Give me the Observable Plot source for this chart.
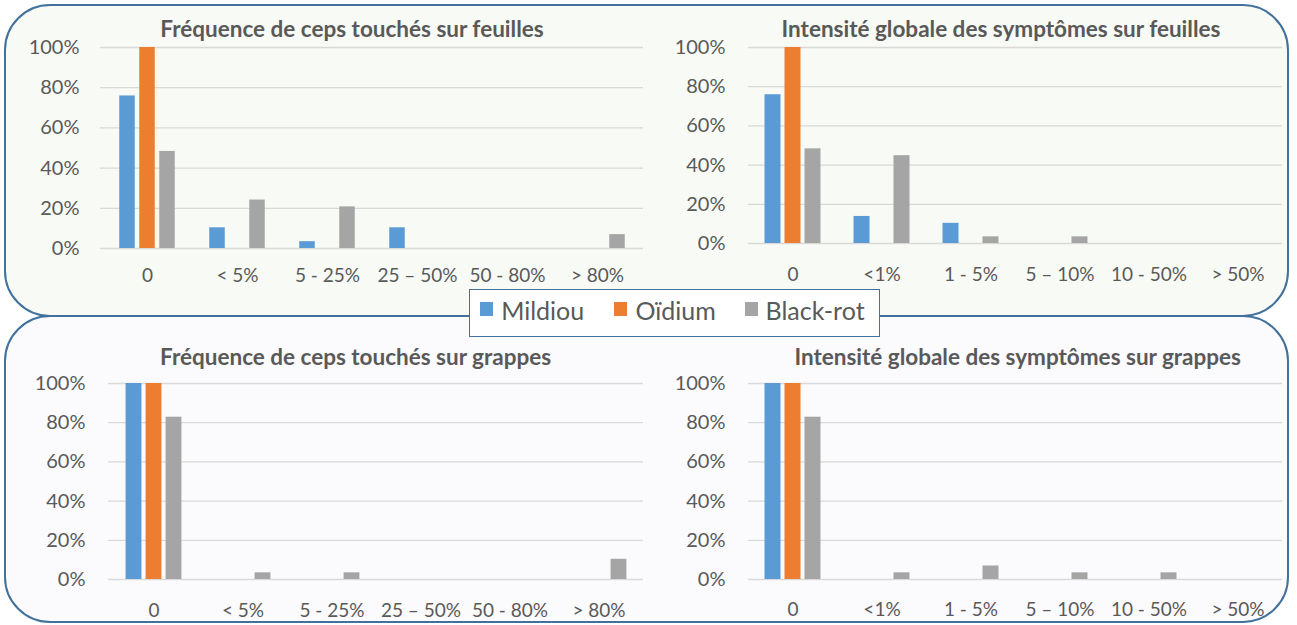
<!DOCTYPE html>
<html>
<head>
<meta charset="utf-8">
<script src="https://cdn.jsdelivr.net/npm/d3@7"></script>
<script src="https://cdn.jsdelivr.net/npm/@observablehq/plot@0.6"></script>
<style>
  html, body { margin: 0; padding: 0; background: #ffffff; }
  #root { position: relative; width: 1297px; height: 625px; overflow: hidden; font-family: Lato, "Open Sans", sans-serif; }
  .box { position: absolute; box-sizing: border-box; border: 2.5px solid #41719c; border-radius: 46px; }
  .panel { position: absolute; }
  .panel svg { background: transparent; overflow: visible; }
  .title { position: absolute; width: 700px; text-align: center; font-weight: 700; font-size: 22.5px; color: #595959; line-height: 24px; white-space: nowrap; }
  #legend { position: absolute; box-sizing: border-box; left: 468.5px; top: 289px; width: 411px; height: 47.5px; background: #ffffff; border: 1.5px solid #41719c; }
  .lg-sw { position: absolute; width: 13px; height: 14px; }
  .lg-tx { position: absolute; font-size: 25px; color: #595959; line-height: 28px; white-space: nowrap; }
</style>
</head>
<body>
<div id="root">
  <div class="box" style="left:3.75px; top:3.75px; width:1285.5px; height:313.5px; background:#f8faf5;"></div>
  <div class="box" style="left:3.75px; top:314.75px; width:1285.5px; height:308.5px; background:#fbfafd;"></div>
  <div class="panel" id="p1" style="left:0px; top:0px;"></div>
  <div class="panel" id="p2" style="left:650px; top:0px;"></div>
  <div class="panel" id="p3" style="left:0px; top:316px;"></div>
  <div class="panel" id="p4" style="left:650px; top:316px;"></div>
  <div class="title" id="t1"></div>
  <div class="title" id="t2"></div>
  <div class="title" id="t3"></div>
  <div class="title" id="t4"></div>
  <div id="legend"></div>
</div>
<script>
// ---- data ----
const seriesNames = ["Mildiou", "Oïdium", "Black-rot"];
const seriesColors = ["#5b9bd5", "#ed7d31", "#a5a5a5"];

const catsFrequence = ["0", "< 5%", "5 - 25%", "25 – 50%", "50 - 80%", "> 80%"];
const catsIntensite = ["0", "<1%", "1 - 5%", "5 – 10%", "10 - 50%", "> 50%"];
const yTickValues = [0, 20, 40, 60, 80, 100];

const titles = [
  "Fréquence de ceps touchés sur feuilles",
  "Intensité globale des symptômes sur feuilles",
  "Fréquence de ceps touchés sur grappes",
  "Intensité globale des symptômes sur grappes"
];

const freqFeuillesMildiou  = [75.9, 10.3, 3.4, 10.3, 0, 0];
const freqFeuillesOidium   = [100, 0, 0, 0, 0, 0];
const freqFeuillesBlackrot = [48.3, 24.1, 20.7, 0, 0, 6.9];

const intFeuillesMildiou   = [75.9, 13.8, 10.3, 0, 0, 0];
const intFeuillesOidium    = [100, 0, 0, 0, 0, 0];
const intFeuillesBlackrot  = [48.3, 44.8, 3.4, 3.4, 0, 0];

const freqGrappesMildiou   = [100, 0, 0, 0, 0, 0];
const freqGrappesOidium    = [100, 0, 0, 0, 0, 0];
const freqGrappesBlackrot  = [82.8, 3.4, 3.4, 0, 0, 10.3];

const intGrappesMildiou    = [100, 0, 0, 0, 0, 0];
const intGrappesOidium     = [100, 0, 0, 0, 0, 0];
const intGrappesBlackrot   = [82.8, 3.4, 6.9, 3.4, 3.4, 0];

// ---- drawing ----
const BAR_W = 16;
const BAR_STEP = 20;

function panel(cats, seriesValues, cfg) {
  const data = [];
  cats.forEach((c, i) => seriesValues.forEach((vals, k) => data.push({cat: c, serie: seriesNames[k], value: vals[i]})));
  const innerW = cfg.width - cfg.ml - cfg.mr;
  const bw = innerW / cats.length;
  const inset = (bw - BAR_W) / 2;
  return Plot.plot({
    width: cfg.width,
    height: cfg.height,
    marginLeft: cfg.ml,
    marginRight: cfg.mr,
    marginTop: cfg.mt,
    marginBottom: cfg.mb,
    style: {fontFamily: "Lato, 'Open Sans', sans-serif", fontSize: "19px", color: "#595959", background: "transparent", overflow: "visible"},
    x: {domain: cats, padding: 0},
    y: {domain: [0, 100], nice: false},
    color: {domain: seriesNames, range: seriesColors},
    marks: [
      Plot.ruleY(yTickValues, {stroke: "#d9d9d9", strokeWidth: 1.3}),
      ...seriesNames.map((s, k) => Plot.barY(data.filter(d => d.serie === s), {
        x: "cat", y: "value", fill: "serie",
        dx: (k - 1) * BAR_STEP, insetLeft: inset, insetRight: inset
      })),
      Plot.axisY(yTickValues, {tickSize: 0, tickPadding: cfg.yPad, tickFormat: d => d + "%", fontSize: 20, label: null}),
      Plot.axisX({tickSize: 0, tickPadding: cfg.xPad, fontSize: 19, label: null})
    ]
  });
}

document.getElementById("p1").append(panel(catsFrequence,
  [freqFeuillesMildiou, freqFeuillesOidium, freqFeuillesBlackrot],
  {width: 650, height: 300, ml: 100, mr: 7, mt: 47, mb: 52, yPad: 21, xPad: 20}));
document.getElementById("p2").append(panel(catsIntensite,
  [intFeuillesMildiou, intFeuillesOidium, intFeuillesBlackrot],
  {width: 647, height: 300, ml: 98, mr: 15, mt: 47, mb: 57, yPad: 23, xPad: 24}));
document.getElementById("p3").append(panel(catsFrequence,
  [freqGrappesMildiou, freqGrappesOidium, freqGrappesBlackrot],
  {width: 650, height: 309, ml: 108, mr: 7, mt: 67, mb: 46, yPad: 23, xPad: 24}));
document.getElementById("p4").append(panel(catsIntensite,
  [intGrappesMildiou, intGrappesOidium, intGrappesBlackrot],
  {width: 647, height: 309, ml: 98, mr: 15, mt: 67, mb: 46, yPad: 23, xPad: 23}));

// titles
const titlePos = [[352, 29], [1001, 29], [355.6, 357], [1017.7, 357]];
titles.forEach((t, i) => {
  const el = document.getElementById("t" + (i + 1));
  el.textContent = t;
  el.style.left = (titlePos[i][0] - 350) + "px";
  el.style.top = (titlePos[i][1] - 12) + "px";
});

// legend
const legend = document.getElementById("legend");
const swatchX = [480.7, 614, 745];
const textX = [501.7, 636, 766];
seriesNames.forEach((s, k) => {
  const sw = document.createElement("div");
  sw.className = "lg-sw";
  sw.style.background = seriesColors[k];
  sw.style.left = (swatchX[k] - 470) + "px";
  sw.style.top = (302 - 290.5) + "px";
  legend.append(sw);
  const tx = document.createElement("div");
  tx.className = "lg-tx";
  tx.textContent = s;
  tx.style.left = (textX[k] - 470) + "px";
  tx.style.top = (310 - 14 - 290.5) + "px";
  legend.append(tx);
});
</script>
</body>
</html>
